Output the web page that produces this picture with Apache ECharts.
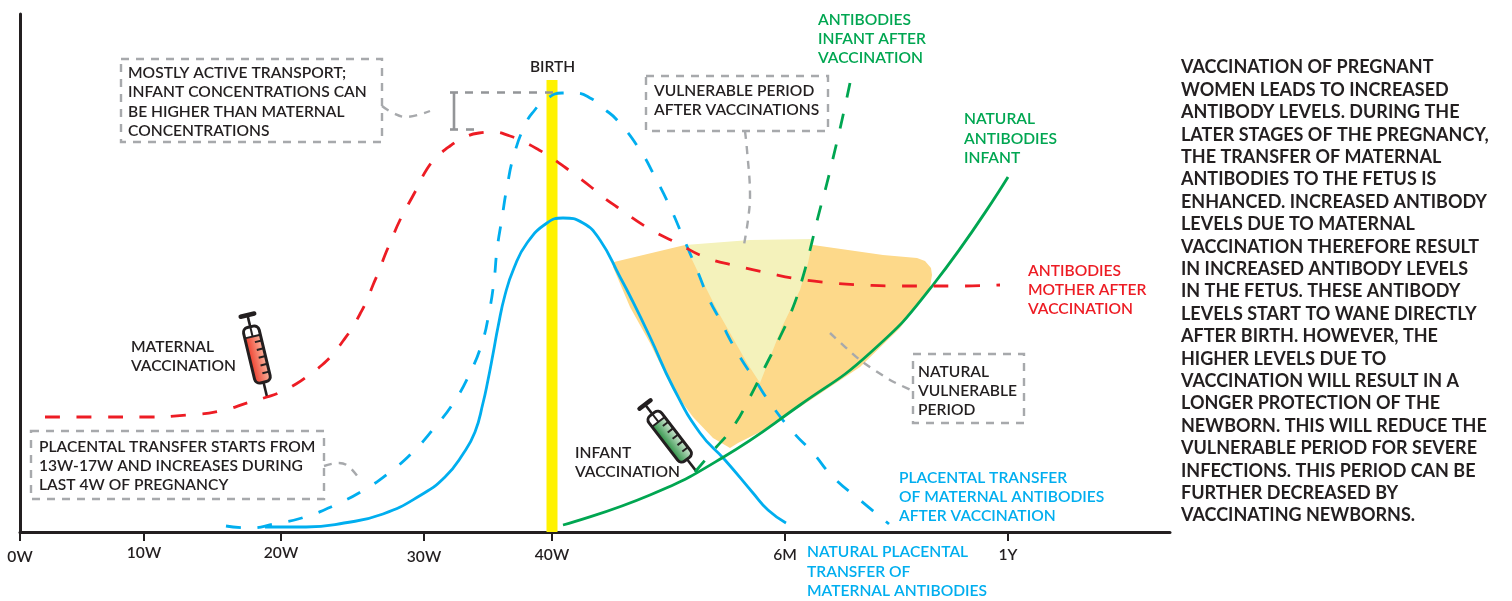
<!DOCTYPE html>
<html><head><meta charset="utf-8">
<style>html,body{margin:0;padding:0;background:#fff}#c{width:1512px;height:601px}</style>
<script src="https://cdn.jsdelivr.net/npm/echarts@6/dist/echarts.min.js"></script>
</head><body><div id="c"></div>
<script>
const tickValues=[0,124,261,404,532,765,988];
const tickLabels=['0W','10W','20W','30W','40W','6M','1Y'];
const tickDrop=[6,2,2,6,4,4,4];
const birthBar=[[532,0],[532,452]];
const motherAfter=[[25,115],[76,115],[129,115],[167,117],[200,121],[230,130],[247,135],[261,140],[276,148],[289,157],[302,167],[313,178],[323,191],[332,204],[340,218],[347,232],[353,247],[359,261],[365,277],[371,291],[380,312],[395,340],[407,363],[417,375],[430,386],[443,394],[459,399],[473,400],[490,396],[504,390],[519,382],[532,374],[546,364],[558,355],[571,345],[583,335],[597,325],[628,304],[657,289],[687,274],[717,266],[748,259],[778,253],[812,249],[843,247],[875,246],[907,246],[940,246],[980,247]];
const placentaAfter=[[206,6],[230,4],[254,8],[285,15],[315,27],[344,42],[370,60],[393,80],[415,105],[434,130],[450,159],[462,189],[469,219],[474,251],[477,282],[482,314],[487,345],[494,377],[505,407],[514,421],[525,432],[542,439],[555,439],[572,433],[583,424],[597,412],[620,382],[635,355],[650,325],[663,295],[677,262],[688,235],[700,212],[717,180],[735,152],[753,125],[773,100],[793,79],[813,55],[840,32],[869,8]];
const placentaNatural=[[245,5],[286,5],[324,9],[363,18],[401,37],[425,55],[443,78],[455,100],[463,129],[468,152],[473,178],[478,205],[485,237],[494,264],[507,289],[527,309],[543,314],[563,309],[580,292],[600,255],[610,236],[630,195],[653,145],[680,99],[705,72],[733,39],[748,22],[766,9]];
const infantAfter=[[675,60],[692,80],[713,105],[730,135],[745,165],[760,195],[772,222],[782,252],[790,282],[798,315],[807,349],[815,382],[822,412],[830,449]];
const infantNatural=[[543,7],[630,37],[702,74],[780,127],[850,179],[913,247],[988,355]];
const vulnerableNatural=[[594,270],[665,287],[793,287],[863,277],[897,274],[905,271],[911,264],[912,257],[910,245],[880,204],[840,165],[780,125],[740,100],[718,89],[710,84],[693,94],[673,115],[653,142],[630,189],[610,225],[593,265]];
const vulnerableAfter=[[665,287],[730,292],[793,293],[788,269],[780,242],[762,205],[740,149],[727,169],[697,222],[677,262]];

const paragraph=['VACCINATION OF PREGNANT','WOMEN LEADS TO INCREASED','ANTIBODY LEVELS. DURING THE','LATER STAGES OF THE PREGNANCY,','THE TRANSFER OF MATERNAL','ANTIBODIES TO THE FETUS IS','ENHANCED. INCREASED ANTIBODY','LEVELS DUE TO MATERNAL','VACCINATION THEREFORE RESULT','IN INCREASED ANTIBODY LEVELS','IN THE FETUS. THESE ANTIBODY','LEVELS START TO WANE DIRECTLY','AFTER BIRTH. HOWEVER, THE','HIGHER LEVELS DUE TO','VACCINATION WILL RESULT IN A','LONGER PROTECTION OF THE','NEWBORN. THIS WILL REDUCE THE','VULNERABLE PERIOD FOR SEVERE','INFECTIONS. THIS PERIOD CAN BE','FURTHER DECREASED BY','VACCINATING NEWBORNS.'];
const FONT='Lato';
const DARK='#231f20',BLUE='#00aeef',GREEN='#00a651',RED='#ed1c24',GREY='#a7a9ac';
const g=[];
function block(x,y,lh,lines,color,size,weight){lines.forEach((t,i)=>g.push({type:'text',x:x,y:y+i*lh,z:20,silent:true,style:{text:t,fill:color,font:(weight||500)+' '+size+'px '+FONT,textVerticalAlign:'middle',textAlign:'left'}}));}
function box(x,y,w,h){g.push({type:'rect',z:15,shape:{x:x,y:y,width:w,height:h},style:{fill:null,stroke:GREY,lineWidth:2.4,lineDash:[8,7]}});}
function conn(points,smooth,stroke,dash,w){g.push({type:'polyline',z:15,shape:{points:points,smooth:smooth},style:{fill:null,stroke:stroke||GREY,lineWidth:w||2.4,lineDash:dash||[8,7]}});}
function syringe(cx,cy,rot,dark,light){
 const k=DARK;
 g.push({type:'group',x:cx,y:cy,rotation:rot,z:18,children:[
  {type:'rect',shape:{x:-8,y:-19,width:16,height:47,r:[0,0,5,5]},style:{fill:new echarts.graphic.LinearGradient(0,0,1,0,[{offset:0,color:dark},{offset:1,color:light}])}},
  {type:'rect',shape:{x:-8,y:-29,width:16,height:57,r:5},style:{fill:null,stroke:k,lineWidth:3}},
  {type:'line',shape:{x1:-8,y1:-19,x2:8,y2:-19},style:{stroke:k,lineWidth:2}},
  {type:'line',shape:{x1:0,y1:-29,x2:0,y2:-19},style:{stroke:k,lineWidth:2}},
  {type:'line',shape:{x1:0,y1:-41,x2:0,y2:-29},style:{stroke:k,lineWidth:2.6}},
  {type:'line',shape:{x1:-7,y1:-41,x2:7,y2:-41},style:{stroke:k,lineWidth:4.4,lineCap:'round'}},
  {type:'line',shape:{x1:0,y1:28,x2:0,y2:43},style:{stroke:k,lineWidth:2.6}},
  ...[-13,-5,3,11,19].map(v=>({type:'line',shape:{x1:1,y1:v,x2:8,y2:v},style:{stroke:k,lineWidth:2}}))
 ]});
}
block(530,67,0,['BIRTH'],DARK,15.5,600);
box(121,59,261,83);
block(128,73,19.3,['MOSTLY ACTIVE TRANSPORT;','INFANT CONCENTRATIONS CAN','BE HIGHER THAN MATERNAL','CONCENTRATIONS'],DARK,15.6,600);
box(31,431,293,68);
block(39,447,19,['PLACENTAL TRANSFER STARTS FROM','13W-17W AND INCREASES DURING','LAST 4W OF PREGNANCY'],DARK,15.6,600);
box(646,76,182,55);
block(654,91,19,['VULNERABLE PERIOD','AFTER VACCINATIONS'],DARK,15.6,600);
box(913,354,111,69);
block(918,372,19,['NATURAL','VULNERABLE','PERIOD'],DARK,15.6,600);
block(131,347,19,['MATERNAL','VACCINATION'],DARK,15.6,600);
block(575,453,19,['INFANT','VACCINATION'],DARK,15.6,600);
block(818,20,19,['ANTIBODIES','INFANT AFTER','VACCINATION'],GREEN,15.6,600);
block(964,119,19.5,['NATURAL','ANTIBODIES','INFANT'],GREEN,15.6,600);
block(1028,271,19,['ANTIBODIES','MOTHER AFTER','VACCINATION'],RED,15.6,600);
block(899,478,19,['PLACENTAL TRANSFER','OF MATERNAL ANTIBODIES','AFTER VACCINATION'],BLUE,15.6,600);
block(807,552,19.5,['NATURAL PLACENTAL','TRANSFER OF','MATERNAL ANTIBODIES'],BLUE,15.6,600);
block(1181,67.6,22.4,paragraph,DARK,18,700);
conn([[382,106],[393,113],[407,117],[430,111]],0.4);
conn([[324,466],[339,463],[348,466],[358,477]],0.4);
conn([[745,131],[747,150],[750,193],[748,220],[743,250]],0.4);
conn([[830,333],[860,360],[890,380],[913,391]],0.2);
conn([[465,92.5],[553,92.5]],0,'#939598',[8,8],2.6);
conn([[466,129.5],[474,129.5]],0,'#939598',[8,8],2.6);
g.push({type:'polyline',z:15,shape:{points:[[450,92.5],[458,92.5]]},style:{stroke:'#939598',lineWidth:2.6}});
g.push({type:'polyline',z:15,shape:{points:[[450,129.5],[458,129.5]]},style:{stroke:'#939598',lineWidth:2.6}});
g.push({type:'polyline',z:15,shape:{points:[[454,92],[454,130]]},style:{stroke:'#939598',lineWidth:2.6}});
syringe(257,355,0.235,'#ee4130','#fbb59e');
syringe(670,437,0.655,'#2f9347','#cfe6d2');

function poly(name,pts,color,z){return {name:name,type:'custom',coordinateSystem:'cartesian2d',z:z,silent:true,clip:false,data:pts,encode:{x:0,y:1},
  renderItem:(p,api)=>{if(p.dataIndex!==0)return null;return {type:'polygon',shape:{points:pts.map(d=>api.coord(d))},style:{fill:color}};}};}
function ln(name,data,color,w,dash,z){return {name:name,type:'line',data:data,smooth:0.5,symbol:'none',z:z||5,clip:false,silent:true,lineStyle:{color:color,width:w,type:dash||'solid',cap:'butt'}};}
const rich={};tickDrop.forEach((d,i)=>{rich['t'+i]={padding:[d,0,0,0],color:DARK,fontFamily:FONT,fontWeight:600,fontSize:15.6};});
const chart=echarts.init(document.getElementById('c'),null,{renderer:'canvas'});
chart.setOption({animation:false,backgroundColor:'#fff',tooltip:{show:false},
 grid:{left:20,top:14,width:1150,height:518,containLabel:false},
 xAxis:{type:'value',min:0,max:1150,splitLine:{show:false},
  axisLine:{show:true,onZero:false,lineStyle:{color:DARK,width:3}},
  axisTick:{show:true,customValues:tickValues,length:9,inside:false,lineStyle:{color:DARK,width:2}},
  axisLabel:{show:true,customValues:tickValues,margin:11,hideOverlap:false,
   showMinLabel:true,showMaxLabel:true,color:DARK,fontFamily:FONT,fontWeight:600,fontSize:15.6,rich:rich,
   formatter:v=>{const i=tickValues.indexOf(v);return i<0?'':'{t'+i+'|'+tickLabels[i]+'}';}}},
 yAxis:{type:'value',min:0,max:518,splitLine:{show:false},axisTick:{show:false},axisLabel:{show:false},
  axisLine:{show:true,onZero:false,lineStyle:{color:DARK,width:3}}},
 series:[
  poly('Natural vulnerable period',vulnerableNatural,'#fdd98a',1),
  poly('Vulnerable period after vaccinations',vulnerableAfter,'#f4f2bb',2),
  {name:'Birth',type:'line',data:birthBar,symbol:'none',z:3,silent:true,lineStyle:{color:'#fff200',width:11,cap:'butt'}},
  ln('Antibodies mother after vaccination',motherAfter,RED,2.8,[15,16.5],6),
  ln('Placental transfer after vaccination',placentaAfter,BLUE,2.8,[15,16.5],5),
  ln('Natural placental transfer',placentaNatural,BLUE,2.8,null,5),
  ln('Antibodies infant after vaccination',infantAfter,GREEN,2.8,[15,16.5],5),
  ln('Natural antibodies infant',infantNatural,GREEN,2.8,null,5)
 ],
 graphic:g
});
</script></body></html>
